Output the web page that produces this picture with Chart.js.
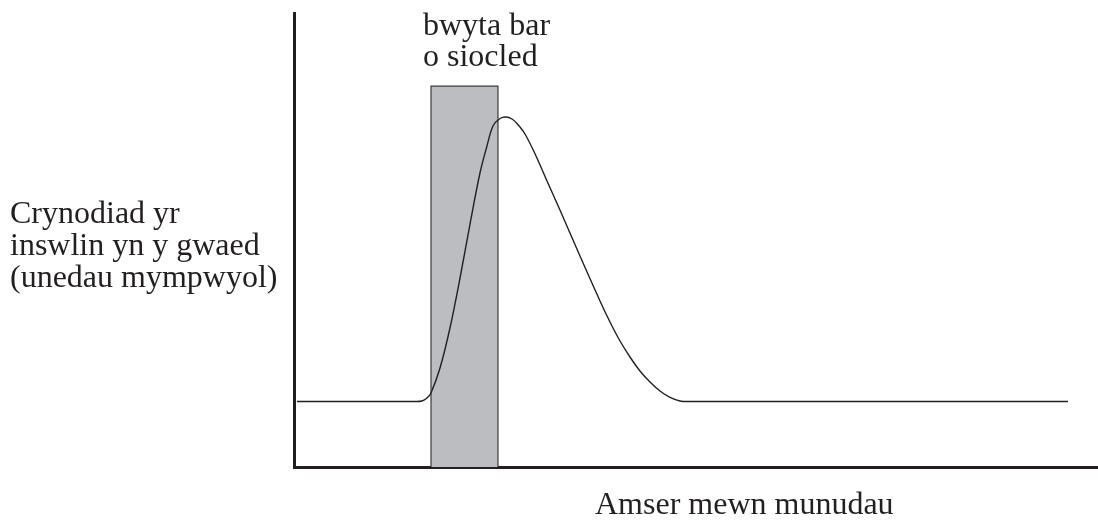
<!DOCTYPE html>
<html>
<head>
<meta charset="utf-8">
<script src="https://cdn.jsdelivr.net/npm/chart.js@4.4.1/dist/chart.umd.min.js"></script>
<style>
  html, body { margin: 0; padding: 0; background: #ffffff; }
  #wrap { width: 1098px; height: 521px; position: relative; }
</style>
</head>
<body>
<div id="wrap"><canvas id="c" width="1098" height="521"></canvas></div>
<script>
// Time (arbitrary units) and insulin concentration (arbitrary units)
const timeValues = [0.37, 15.05, 15.92, 16.54, 17.04, 18.16, 19.40, 20.65, 21.89, 23.13, 24.00, 24.75, 25.62, 26.37, 27.11, 27.74, 28.73, 30.10, 31.47, 33.08, 35.57, 38.06, 39.30, 40.55, 41.79, 43.03, 44.28, 45.52, 46.77, 48.01, 49.25, 96.27];
const insulinValues = [14.43, 14.43, 14.54, 15.20, 16.30, 21.81, 30.62, 41.63, 53.52, 64.76, 70.70, 75.11, 76.76, 77.09, 76.65, 75.66, 73.35, 68.50, 63.00, 56.61, 46.48, 36.56, 31.94, 27.75, 24.23, 21.15, 18.72, 16.74, 15.31, 14.54, 14.43, 14.43];
// Chocolate bar eating period (start, end) and bar height
const eatingPeriod = [17.04, 25.37];
const eatingBarHeight = 83.9;

const barLabelLines = ["bwyta bar", "o siocled"];
const yTitleLines = ["Crynodiad yr", "inswlin yn y gwaed", "(unedau mympwyol)"];
const xTitle = "Amser mewn munudau";

const curvePoints = timeValues.map((t, i) => ({x: t, y: insulinValues[i]}));
const barPoints = [
  {x: eatingPeriod[0], y: 0},
  {x: eatingPeriod[0], y: eatingBarHeight},
  {x: eatingPeriod[1], y: eatingBarHeight},
  {x: eatingPeriod[1], y: 0}
];

const FONT = '32px "Liberation Serif", "Times New Roman", serif';

const textPlugin = {
  id: 'texts',
  afterDraw(chart) {
    const ctx = chart.ctx;
    const xs = chart.scales.x;
    ctx.save();
    ctx.fillStyle = '#231f20';
    ctx.font = FONT;
    ctx.textBaseline = 'alphabetic';
    ctx.textAlign = 'left';
    const bx = xs.getPixelForValue(eatingPeriod[0]) - 8;
    barLabelLines.forEach((l, i) => ctx.fillText(l, bx, 35 + i * 31));
    yTitleLines.forEach((l, i) => ctx.fillText(l, 10, 223 + i * 32));
    ctx.fillText(xTitle, 595, 514);
    ctx.restore();
  }
};

new Chart(document.getElementById('c'), {
  type: 'line',
  data: {
    datasets: [
      {
        data: curvePoints,
        borderColor: '#231f20',
        borderWidth: 1.4,
        pointRadius: 0,
        fill: false,
        tension: 0.35
      },
      {
        data: barPoints,
        borderColor: '#3a3a3c',
        borderWidth: 1.2,
        backgroundColor: '#bcbdc0',
        pointRadius: 0,
        fill: 'origin',
        tension: 0
      }
    ]
  },
  options: {
    responsive: false,
    animation: false,
    devicePixelRatio: 1,
    layout: { padding: { left: 294, right: 0, top: 13, bottom: 54 } },
    plugins: { legend: { display: false }, tooltip: { enabled: false } },
    scales: {
      x: {
        type: 'linear', min: 0, max: 100,
        grid: { display: false, drawTicks: false },
        ticks: { display: false },
        border: { display: true, color: '#231f20', width: 3 }
      },
      y: {
        type: 'linear', min: 0, max: 100,
        grid: { display: false, drawTicks: false },
        ticks: { display: false },
        border: { display: true, color: '#231f20', width: 3 }
      }
    }
  },
  plugins: [textPlugin]
});
</script>
</body>
</html>
